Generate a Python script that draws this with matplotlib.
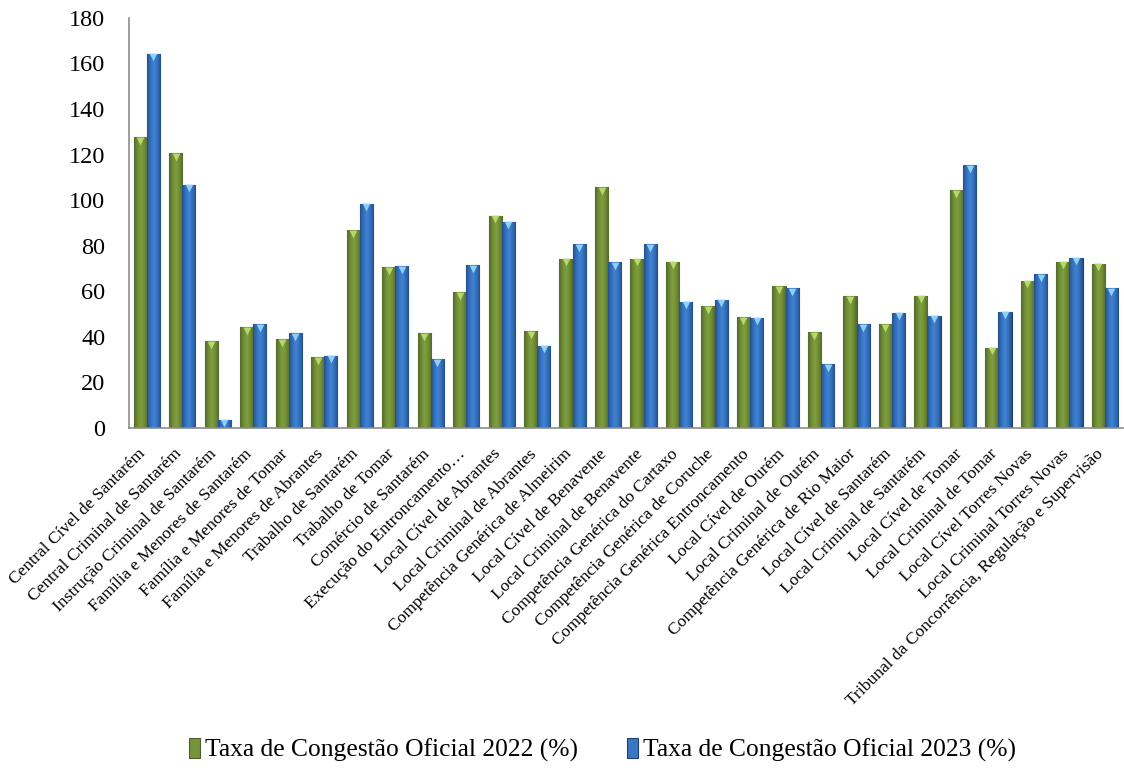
import matplotlib
matplotlib.use("Agg")
import matplotlib.pyplot as plt
import matplotlib.transforms as mtransforms
import numpy as np
from matplotlib.colors import LinearSegmentedColormap

# categories and values
categories = [
    "Central Cível de Santarém",
    "Central Criminal de Santarém",
    "Instrução Criminal de Santarém",
    "Família e Menores de Santarém",
    "Família e Menores de Tomar",
    "Família e Menores de Abrantes",
    "Trabalho de Santarém",
    "Trabalho de Tomar",
    "Comércio de Santarém",
    "Execução do Entroncamento…",
    "Local Cível de Abrantes",
    "Local Criminal de Abrantes",
    "Competência Genérica de Almeirim",
    "Local Cível de Benavente",
    "Local Criminal de Benavente",
    "Competência Genérica do Cartaxo",
    "Competência Genérica de Coruche",
    "Competência Genérica Entroncamento",
    "Local Cível de Ourém",
    "Local Criminal de Ourém",
    "Competência Genérica de Rio Maior",
    "Local Cível de Santarém",
    "Local Criminal de Santarém",
    "Local Cível de Tomar",
    "Local Criminal de Tomar",
    "Local Cível Torres Novas",
    "Local Criminal Torres Novas",
    "Tribunal da Concorrência, Regulação e Supervisão",
]
taxa_2022 = [127.5, 120.7, 38.1, 44.3, 38.9, 31.2, 86.8, 70.5, 41.6, 59.7,
             93.1, 42.4, 74.3, 105.7, 74.3, 73.0, 53.4, 48.5, 62.2, 42.1,
             57.8, 45.5, 58.0, 104.5, 35.2, 64.6, 73.0, 72.1]
taxa_2023 = [164.3, 106.7, 3.7, 45.5, 41.5, 31.7, 98.4, 71.1, 30.3, 71.5,
             90.5, 36.1, 80.8, 72.9, 80.8, 55.4, 56.3, 48.4, 61.4, 28.1,
             45.5, 50.6, 49.3, 115.2, 51.0, 67.6, 74.8, 61.4]
series_labels = ["Taxa de Congestão Oficial 2022 (%)",
                 "Taxa de Congestão Oficial 2023 (%)"]
y_ticks = [0, 20, 40, 60, 80, 100, 120, 140, 160, 180]

plt.rcParams['font.family'] = ['Liberation Serif', 'DejaVu Serif']

fig = plt.figure(figsize=(11.24, 7.71), dpi=100)
ax = fig.add_axes([0.1148, 0.4449, 0.884, 0.532])

x = np.arange(len(categories))
w = 0.37
green, green_edge, green_tip = "#76923c", "#4f6128", "#b5d96a"
blue, blue_edge, blue_tip = "#3a77c2", "#1f3f6e", "#8fd0f7"

bars_22 = ax.bar(x - w / 2, taxa_2022, w, color=green, edgecolor=green_edge,
                 linewidth=0.8, label=series_labels[0], zorder=2)
bars_23 = ax.bar(x + w / 2, taxa_2023, w, color=blue, edgecolor=blue_edge,
                 linewidth=0.8, label=series_labels[1], zorder=2)

# horizontal shading inside each bar (darker sides, lighter middle)
grad = np.abs(np.linspace(-1, 1, 64)).reshape(1, -1)
cmap_g = LinearSegmentedColormap.from_list("g", ["#7f9f3e", "#6f8c36", "#53692a"])
cmap_b = LinearSegmentedColormap.from_list("b", ["#3f82d4", "#3470bb", "#24508c"])
for bars, cmap in [(bars_22, cmap_g), (bars_23, cmap_b)]:
    for p in bars:
        x0, y0 = p.get_x(), p.get_y()
        im = ax.imshow(grad, cmap=cmap, vmin=0, vmax=1, aspect='auto',
                       extent=[x0, x0 + p.get_width(), y0, y0 + p.get_height()],
                       zorder=2.1, interpolation='bilinear')
        im.set_clip_path(p)

# little bevel triangles at the bar tops
ax.scatter(x - w / 2, np.array(taxa_2022) - 1.6, marker='v', s=30,
           color=green_tip, linewidths=0, zorder=3)
ax.scatter(x + w / 2, np.array(taxa_2023) - 1.6, marker='v', s=30,
           color=blue_tip, linewidths=0, zorder=3)

ax.set_xlim(-0.5, len(categories) - 0.5)
ax.set_ylim(0, 180)
ax.set_yticks(y_ticks)
ax.tick_params(axis='y', labelsize=17.5, length=0, pad=17)
ax.set_xticks(x)
ax.set_xticklabels(categories, rotation=45, ha='right', rotation_mode='anchor',
                   fontsize=12.6)
ax.tick_params(axis='x', length=0, pad=13)
shift = mtransforms.ScaledTranslation(-9 / 100, 0, fig.dpi_scale_trans)
for lbl in ax.get_xticklabels():
    lbl.set_transform(lbl.get_transform() + shift)

for side in ['top', 'right']:
    ax.spines[side].set_visible(False)
for side in ['left', 'bottom']:
    ax.spines[side].set_color('#8c8c8c')
    ax.spines[side].set_linewidth(1.2)

fig.legend(loc='center', bbox_to_anchor=(0.536, 0.027), ncol=2, frameon=False,
           fontsize=18.4, handlelength=0.45, handleheight=0.8, handletextpad=0.2,
           columnspacing=1.9)

plt.savefig("out.png", dpi=100)
plt.close()
